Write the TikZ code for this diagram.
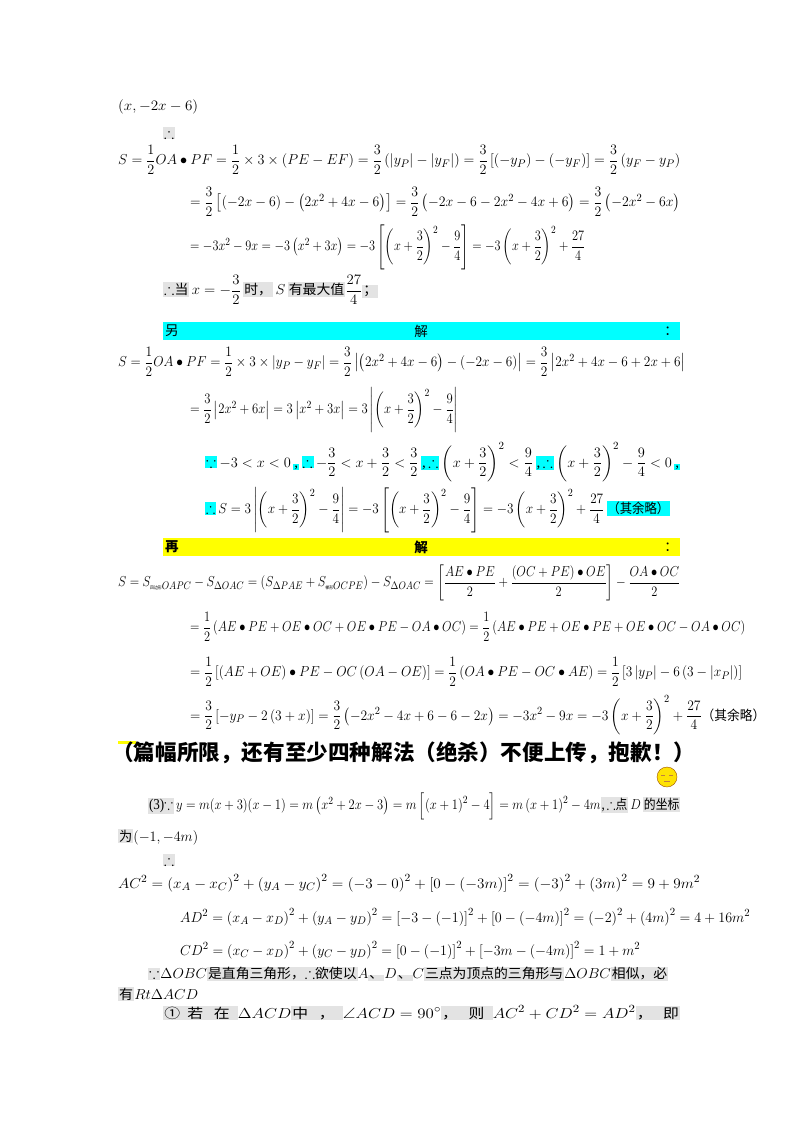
\documentclass[tikz,border=0pt]{standalone}
\usepackage{amsmath,amssymb}
\usepackage{fontspec}
\setmainfont{Liberation Serif}
\newfontfamily\cjk{Noto Sans CJK SC}[Scale=0.9]
\definecolor{aqua}{RGB}{0,255,255}
\definecolor{hlyellow}{RGB}{255,255,0}
\newcommand{\hlg}[1]{{\setlength{\fboxsep}{1pt}\colorbox{gray!22}{#1}}}
\newcommand{\hlc}[1]{{\setlength{\fboxsep}{1pt}\colorbox{aqua}{#1}}}
\newcommand{\zh}[1]{\text{\cjk #1}}
\newcommand{\rw}[2]{\resizebox{#1pt}{\height}{#2}}
\tikzset{
  row/.style={anchor=west, inner sep=0pt, font=\fontsize{15}{17}\selectfont},
  bar/.style={inner sep=0pt, font=\cjk\fontsize{15}{17}\selectfont}
}
\begin{document}
\begin{tikzpicture}[x=1pt, y=-1pt]
\useasboundingbox[fill=white] (0,0) rectangle (800,1132);
\node[row] (l1) at (118,107) {\rw{80}{$(x,-2x-6)$}};
\node[row] (l2) at (163,133) {\hlg{$\therefore$}};
\node[row] (l3) at (118,160) {\rw{562}{$S=\dfrac12 OA\bullet PF=\dfrac12\times3\times\left(PE-EF\right)=\dfrac32\left(|y_P|-|y_F|\right)=\dfrac32\left[\left(-y_P\right)-\left(-y_F\right)\right]=\dfrac32\left(y_F-y_P\right)$}};
\node[row] (l4) at (190,202) {\rw{490}{$=\dfrac32\left[\left(-2x-6\right)-\left(2x^2+4x-6\right)\right]=\dfrac32\left(-2x-6-2x^2-4x+6\right)=\dfrac32\left(-2x^2-6x\right)$}};
\node[row] (l5) at (190,247) {\rw{395}{$=-3x^2-9x=-3\left(x^2+3x\right)=-3\left[\left(x+\dfrac32\right)^2-\dfrac94\right]=-3\left(x+\dfrac32\right)^2+\dfrac{27}{4}$}};
\node[row] (l6) at (163,290) {\rw{215}{\hlg{$\therefore$\cjk 当}$\,x=-\dfrac32\,$\hlg{\cjk 时，}$\,S\,$\hlg{\cjk 有最大值}$\dfrac{27}{4}$\hlg{\cjk ；}}};
\fill[aqua] (163,322) rectangle (680,340);
\node[bar, anchor=west] (b1) at (165,331) {另};
\node[bar] (b2) at (421,331) {解};
\node[bar, anchor=east] (b3) at (678,331) {：};
\node[row] (l7) at (118,362) {\rw{567}{$S=\dfrac12 OA\bullet PF=\dfrac12\times3\times\left|y_P-y_F\right|=\dfrac32\left|\left(2x^2+4x-6\right)-\left(-2x-6\right)\right|=\dfrac32\left|2x^2+4x-6+2x+6\right|$}};
\node[row] (l8) at (190,410) {\rw{268}{$=\dfrac32\left|2x^2+6x\right|=3\left|x^2+3x\right|=3\left|\left(x+\dfrac32\right)^2-\dfrac94\right|$}};
\node[row] (l9) at (205,462) {\rw{475}{\hlc{$\because$}\,$-3<x<0$\,\hlc{,}\,\hlc{$\therefore$}\,$-\dfrac32<x+\dfrac32<\dfrac32$\,\hlc{,\,$\therefore$}\,$\left(x+\dfrac32\right)^2<\dfrac94$\,\hlc{,\,$\therefore$}\,$\left(x+\dfrac32\right)^2-\dfrac94<0$\,\hlc{,}}};
\node[row] (l10) at (205,510) {\rw{465}{\hlc{$\therefore$}\,$S=3\left|\left(x+\dfrac32\right)^2-\dfrac94\right|=-3\left[\left(x+\dfrac32\right)^2-\dfrac94\right]=-3\left(x+\dfrac32\right)^2+\dfrac{27}{4}$\,\hlc{\cjk （其余略）}}};
\fill[hlyellow] (163,538) rectangle (680,556);
\node[bar, anchor=west] (c1) at (165,547) {\bfseries 再};
\node[bar] (c2) at (421,547) {\bfseries 解};
\node[bar, anchor=east] (c3) at (678,547) {：};
\node[row] (l11) at (118,583) {\rw{562}{$S=S_{\zh{\tiny 四边形}OAPC}-S_{\Delta OAC}=\left(S_{\Delta PAE}+S_{\zh{\tiny 梯形}OCPE}\right)-S_{\Delta OAC}=\left[\dfrac{AE\bullet PE}{2}+\dfrac{(OC+PE)\bullet OE}{2}\right]-\dfrac{OA\bullet OC}{2}$}};
\node[row] (l12) at (190,627) {\rw{555}{$=\dfrac12\left(AE\bullet PE+OE\bullet OC+OE\bullet PE-OA\bullet OC\right)=\dfrac12\left(AE\bullet PE+OE\bullet PE+OE\bullet OC-OA\bullet OC\right)$}};
\node[row] (l13) at (190,672) {\rw{552}{$=\dfrac12\left[\left(AE+OE\right)\bullet PE-OC\left(OA-OE\right)\right]=\dfrac12\left(OA\bullet PE-OC\bullet AE\right)=\dfrac12\left[3\left|y_P\right|-6\left(3-\left|x_P\right|\right)\right]$}};
\node[row] (l14) at (190,715) {\rw{575}{$=\dfrac32\left[-y_P-2\left(3+x\right)\right]=\dfrac32\left(-2x^2-4x+6-6-2x\right)=-3x^2-9x=-3\left(x+\dfrac32\right)^2+\dfrac{27}{4}$\zh{（其余略）}}};
\fill[hlyellow] (118,741) rectangle (136,744);
\node[row, font=\cjk\bfseries\fontsize{24}{26}\selectfont] (t1) at (112,753) {（篇幅所限，还有至少四种解法（绝杀）不便上传，抱歉！）};
\node[circle, fill=yellow!85!orange, draw=orange!60!black, thin, minimum size=20pt, inner sep=0pt] (emo) at (667,777) {};
\draw[brown, line width=0.8pt] ([shift={(-6,-2)}]emo.center) -- ++(4,0) ([shift={(2,-2)}]emo.center) -- ++(4,0)
  ([shift={(-3,4)}]emo.center) -- ++(6,0);
\node[row] (l15) at (148,806) {\rw{532}{\hlg{(3)$\because$}$\,y=m(x+3)(x-1)=m\left(x^2+2x-3\right)=m\left[\left(x+1\right)^2-4\right]=m\left(x+1\right)^2-4m$\hlg{,$\,\therefore$\cjk 点}$\,D\,$\hlg{\cjk 的坐标}}};
\node[row] (l16) at (118,837) {\rw{80}{\hlg{\cjk 为}$\left(-1,-4m\right)$}};
\node[row] (l17) at (163,860) {\hlg{$\therefore$}};
\node[row] (l18) at (118,883) {\rw{582}{$AC^2=\left(x_A-x_C\right)^2+\left(y_A-y_C\right)^2=\left(-3-0\right)^2+\left[0-\left(-3m\right)\right]^2=\left(-3\right)^2+\left(3m\right)^2=9+9m^2$}};
\node[row] (l19) at (180,917) {\rw{570}{$AD^2=\left(x_A-x_D\right)^2+\left(y_A-y_D\right)^2=\left[-3-\left(-1\right)\right]^2+\left[0-\left(-4m\right)\right]^2=\left(-2\right)^2+\left(4m\right)^2=4+16m^2$}};
\node[row] (l20) at (180,950) {\rw{460}{$CD^2=\left(x_C-x_D\right)^2+\left(y_C-y_D\right)^2=\left[0-\left(-1\right)\right]^2+\left[-3m-\left(-4m\right)\right]^2=1+m^2$}};
\node[row] (l21) at (148,974) {\rw{520}{\hlg{$\because$}$\Delta OBC$\hlg{\cjk 是直角三角形，$\therefore$欲使以}$A$\hlg{\cjk 、}$D$\hlg{\cjk 、}$C$\hlg{\cjk 三点为顶点的三角形与}$\Delta OBC$\hlg{\cjk 相似，必}}};
\node[row] (l22) at (118,994) {\rw{80}{\hlg{\cjk 有}$Rt\Delta ACD$}};
\node[row] (l23) at (163,1013) {\rw{517}{\hlg{\cjk ①\ \ 若\ \ \ 在\ \ }$\Delta ACD$\hlg{\cjk 中\ \ \ ，\ \ }$\angle ACD=90^\circ$\hlg{\cjk ，\ \ \ 则\ \ }$AC^2+CD^2=AD^2$\hlg{\cjk ，\ \ \ 即}}};
\end{tikzpicture}
\end{document}
